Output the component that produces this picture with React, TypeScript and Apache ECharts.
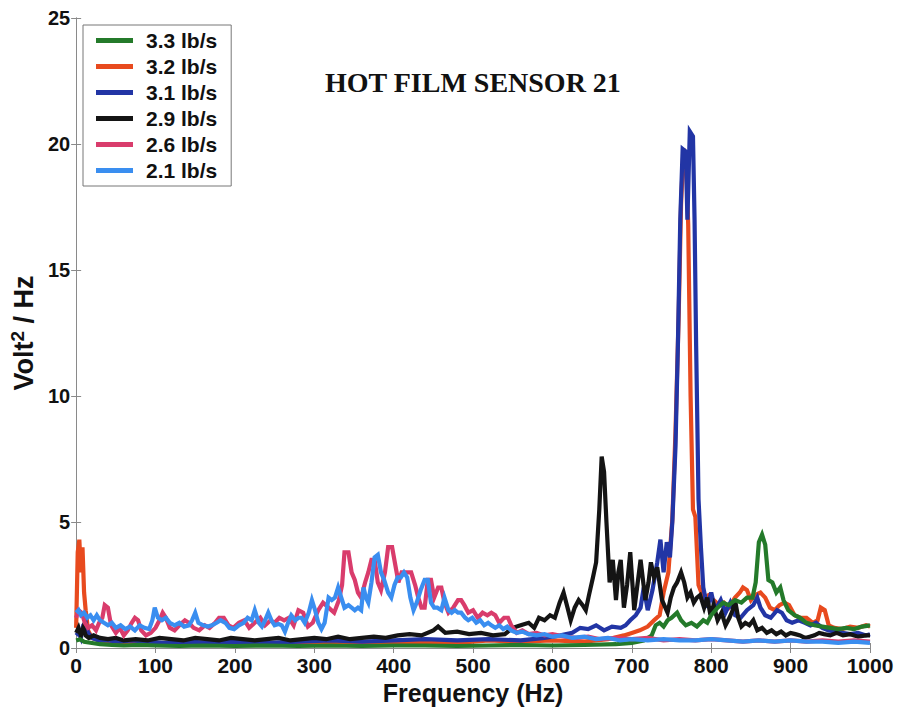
import React, { useEffect, useRef } from "react";
import * as echarts from "echarts";

const seriesNames = ["3.3 lb/s", "3.2 lb/s", "3.1 lb/s", "2.9 lb/s", "2.6 lb/s", "2.1 lb/s"];
const xTicks = [0, 100, 200, 300, 400, 500, 600, 700, 800, 900, 1000];
const yTicks = [0, 5, 10, 15, 20, 25];

const green33 = [[0,0.3],[5,0.35],[10,0.25],[20,0.2],[30,0.15],[45,0.12],[60,0.1],[80,0.12],[100,0.1],[130,0.08],[160,0.1],[200,0.08],[240,0.1],[280,0.08],[320,0.1],[360,0.08],[400,0.1],[440,0.1],[480,0.08],[520,0.1],[560,0.12],[600,0.1],[640,0.12],[680,0.15],[700,0.2],[715,0.3],[725,0.5],[730,0.9],[735,1.0],[740,0.85],[745,1.1],[750,1.2],[757,1.4],[762,1.1],[768,0.9],[775,1.0],[782,0.85],[790,1.1],[795,1.0],[800,1.3],[808,1.6],[815,1.8],[822,1.7],[830,1.9],[838,1.8],[845,2.0],[852,2.0],[856,2.6],[860,4.2],[864,4.5],[868,4.1],[872,2.7],[877,2.6],[882,2.2],[887,2.4],[891,1.9],[897,1.5],[905,1.3],[912,1.2],[920,1.0],[930,0.9],[940,0.85],[950,0.8],[960,0.75],[970,0.8],[980,0.75],[990,0.85],[1000,0.9]];

const red32 = [[0,0.8],[2,3.8],[4,4.3],[6,3.0],[8,4.0],[10,2.2],[12,1.5],[15,0.7],[20,0.4],[30,0.3],[45,0.25],[60,0.2],[80,0.15],[100,0.2],[130,0.15],[160,0.2],[200,0.15],[240,0.2],[280,0.15],[320,0.2],[360,0.15],[400,0.2],[440,0.25],[480,0.2],[520,0.3],[560,0.25],[600,0.3],[640,0.25],[670,0.35],[690,0.5],[700,0.6],[710,0.7],[720,0.85],[728,1.1],[735,1.3],[740,2.2],[746,3.0],[751,5.1],[755,8.6],[759,13.2],[762,17.6],[765,19.8],[768,19.6],[771,16.8],[774,10.0],[777,5.5],[780,5.2],[784,2.5],[790,2.0],[797,2.1],[803,1.9],[810,1.7],[816,1.8],[822,1.6],[830,2.0],[836,2.2],[840,2.4],[845,2.3],[850,1.9],[855,2.1],[862,2.2],[868,2.0],[874,1.6],[880,1.5],[886,1.7],[892,1.8],[898,1.7],[905,1.3],[912,1.2],[920,1.2],[928,1.0],[934,1.1],[938,1.6],[943,1.5],[948,0.9],[955,0.8],[965,0.75],[975,0.85],[985,0.8],[995,0.9],[1000,0.85]];

const blue31 = [[0,0.5],[3,0.6],[6,0.4],[9,0.9],[12,1.0],[15,0.6],[20,0.4],[28,0.3],[40,0.3],[55,0.25],[70,0.3],[90,0.25],[110,0.2],[140,0.25],[170,0.2],[200,0.25],[240,0.2],[280,0.25],[320,0.3],[360,0.25],[400,0.3],[440,0.35],[480,0.3],[520,0.35],[560,0.3],[590,0.4],[610,0.5],[625,0.6],[635,0.8],[645,0.75],[655,0.9],[665,0.7],[675,0.85],[686,0.8],[692,0.9],[698,1.1],[705,1.3],[711,1.6],[715,2.4],[720,1.5],[726,2.3],[732,3.4],[736,4.3],[740,3.0],[744,4.2],[748,3.6],[751,5.0],[755,8.0],[758,12.0],[761,17.0],[764,19.8],[768,19.7],[770,17.0],[773,20.5],[777,20.3],[779,17.0],[781,12.0],[784,5.9],[787,4.0],[790,2.4],[795,1.6],[800,2.2],[805,1.5],[812,1.9],[818,1.4],[824,1.8],[830,1.3],[837,1.2],[845,1.5],[853,1.7],[858,2.0],[862,1.6],[868,1.3],[875,1.2],[883,1.5],[889,1.4],[895,1.1],[902,1.0],[910,1.1],[918,1.0],[925,0.9],[932,1.0],[940,0.8],[948,0.7],[956,0.65],[965,0.6],[975,0.55],[985,0.6],[995,0.5],[1000,0.55]];

const black29 = [[0,0.6],[3,0.8],[6,0.5],[9,0.8],[12,0.5],[16,0.4],[22,0.5],[30,0.4],[40,0.35],[50,0.4],[60,0.3],[75,0.35],[90,0.3],[105,0.4],[120,0.35],[135,0.3],[150,0.4],[165,0.35],[180,0.3],[195,0.4],[210,0.35],[225,0.3],[240,0.35],[255,0.4],[270,0.3],[285,0.35],[300,0.4],[315,0.35],[330,0.45],[345,0.35],[360,0.4],[375,0.45],[390,0.4],[405,0.5],[420,0.55],[435,0.5],[450,0.7],[456,0.85],[465,0.6],[480,0.65],[495,0.55],[510,0.6],[525,0.5],[540,0.55],[550,0.8],[560,0.9],[570,1.0],[577,0.8],[583,1.2],[590,1.1],[597,1.3],[603,1.2],[609,1.8],[614,2.2],[619,1.6],[623,1.1],[628,1.6],[633,1.9],[638,1.7],[642,1.5],[646,2.1],[651,2.8],[655,3.4],[659,5.5],[662,7.6],[665,7.0],[668,5.0],[672,2.6],[676,3.5],[680,1.9],[683,3.0],[686,3.5],[690,1.6],[694,2.5],[698,3.8],[703,1.5],[707,2.5],[711,3.5],[717,1.9],[721,2.6],[724,3.4],[728,2.8],[732,3.2],[738,1.9],[745,1.4],[749,2.0],[753,2.4],[757,2.6],[762,3.0],[766,2.6],[770,2.0],[774,2.2],[778,1.8],[782,2.0],[786,2.1],[791,1.6],[795,2.0],[799,1.3],[803,1.7],[808,1.1],[813,1.4],[818,0.9],[823,1.2],[827,1.5],[830,1.9],[834,1.2],[838,0.85],[843,1.0],[848,0.9],[853,1.1],[858,0.7],[864,0.8],[870,0.6],[876,0.7],[882,0.55],[888,0.65],[894,0.5],[900,0.6],[906,0.55],[912,0.5],[918,0.4],[924,0.45],[930,0.5],[936,0.6],[942,0.55],[950,0.5],[958,0.6],[966,0.5],[975,0.55],[985,0.45],[995,0.5],[1000,0.5]];

const pink26 = [[0,1.2],[3,1.5],[7,1.4],[11,1.0],[15,0.8],[20,0.9],[25,0.7],[29,1.0],[33,1.2],[36,1.7],[40,1.6],[44,0.9],[50,0.6],[55,0.8],[60,0.5],[65,0.7],[70,1.0],[74,1.2],[78,1.1],[82,0.7],[88,0.5],[94,0.6],[100,0.8],[105,1.1],[109,1.4],[113,1.2],[118,0.8],[124,0.7],[130,0.9],[137,1.1],[142,1.0],[148,0.8],[155,0.7],[162,0.9],[168,0.8],[175,1.0],[180,1.2],[186,1.2],[192,0.9],[198,0.8],[205,1.0],[212,1.1],[218,0.8],[225,1.0],[232,1.2],[238,0.9],[245,1.1],[250,1.0],[256,1.2],[262,1.1],[268,1.2],[274,0.9],[280,1.5],[286,1.4],[292,0.85],[298,1.0],[305,1.5],[311,1.8],[318,1.6],[325,1.4],[331,1.9],[335,2.5],[338,3.8],[343,3.8],[347,3.0],[351,2.7],[355,2.2],[359,2.0],[364,2.6],[368,3.0],[372,3.5],[376,3.5],[380,2.6],[384,2.3],[389,3.0],[393,4.0],[398,4.0],[402,3.3],[406,2.6],[410,3.0],[416,3.0],[422,3.0],[427,2.5],[431,2.0],[435,1.6],[439,1.6],[443,2.7],[447,2.7],[451,2.0],[456,2.4],[460,2.4],[464,1.8],[469,1.4],[475,1.6],[481,1.9],[485,1.9],[489,1.7],[494,1.4],[500,1.5],[506,1.2],[512,1.4],[518,1.3],[523,1.4],[528,1.3],[533,1.0],[539,1.2],[544,1.2],[548,0.9],[555,0.6],[562,0.7],[570,0.55],[580,0.6],[590,0.5],[600,0.55],[615,0.45],[630,0.4],[645,0.45],[660,0.35],[680,0.4],[700,0.35],[720,0.4],[740,0.3],[760,0.35],[780,0.3],[800,0.35],[820,0.3],[840,0.25],[860,0.3],[880,0.25],[900,0.3],[920,0.25],[940,0.3],[960,0.25],[980,0.3],[1000,0.25]];

const lightblue21 = [[0,1.4],[3,1.5],[6,1.3],[10,1.4],[14,1.2],[18,1.3],[22,1.1],[26,1.3],[30,1.1],[35,1.0],[40,0.9],[45,1.0],[50,0.8],[56,0.9],[62,0.75],[68,0.85],[74,0.7],[80,0.9],[86,0.8],[92,0.75],[96,1.1],[99,1.6],[103,1.2],[108,1.1],[113,1.2],[118,1.0],[124,0.9],[130,1.0],[136,0.85],[142,0.9],[146,1.1],[150,1.4],[154,1.0],[160,0.9],[166,0.85],[171,0.9],[177,1.0],[182,1.1],[188,1.0],[193,0.8],[199,0.75],[205,0.9],[211,1.0],[216,1.2],[221,1.1],[225,1.5],[230,1.0],[234,0.85],[238,1.1],[242,1.4],[246,1.1],[250,0.9],[255,0.95],[259,0.9],[263,0.65],[267,1.0],[271,1.3],[276,1.1],[280,1.2],[284,1.2],[288,1.0],[293,1.4],[297,1.9],[301,1.5],[305,1.0],[309,0.75],[313,1.0],[318,2.0],[322,1.9],[326,2.0],[330,2.4],[334,2.0],[338,1.6],[343,1.7],[347,1.6],[351,1.5],[355,1.6],[359,1.5],[362,2.4],[365,2.0],[368,1.8],[372,2.6],[376,3.6],[380,3.7],[384,3.0],[388,2.7],[393,2.2],[397,2.0],[401,2.5],[405,2.8],[409,2.8],[413,3.0],[417,2.8],[421,2.0],[425,1.5],[429,1.8],[434,2.3],[439,2.7],[443,2.7],[447,1.8],[451,1.6],[455,1.6],[460,1.5],[464,2.0],[469,1.5],[473,1.4],[477,1.5],[481,1.4],[485,1.4],[490,1.2],[494,1.1],[499,1.2],[504,1.0],[509,1.1],[514,0.9],[519,1.0],[523,0.9],[528,0.8],[533,0.9],[538,0.75],[543,0.85],[548,0.7],[555,0.6],[562,0.65],[570,0.55],[580,0.5],[590,0.55],[600,0.45],[612,0.5],[625,0.4],[640,0.45],[655,0.35],[670,0.4],[685,0.3],[700,0.35],[720,0.3],[740,0.35],[760,0.3],[780,0.3],[800,0.35],[820,0.3],[840,0.25],[860,0.3],[880,0.25],[900,0.3],[920,0.25],[940,0.25],[960,0.2],[980,0.25],[1000,0.2]];

const colors = ["#247a2a", "#e84a1e", "#2235a5", "#141414", "#d93c6c", "#3a8ef0"];

export default function App() {
  const ref = useRef<HTMLDivElement>(null);
  useEffect(() => {
    if (!ref.current) return;
    const chart = echarts.init(ref.current, null, { renderer: "svg" });
    const font = "'Liberation Sans', Arial, sans-serif";
    const mk = (idx: number, data: number[][], z: number) => ({
      name: seriesNames[idx],
      type: "line",
      data,
      symbol: "none",
      z,
      color: colors[idx],
      lineStyle: { width: 4.2, color: colors[idx], join: "miter" },
      xAxisIndex: 0,
      yAxisIndex: 0,
    });
    const axisLine = { show: true, lineStyle: { color: "#8a8a8a", width: 1 } };
    const tick = { show: true, inside: true, length: 5, lineStyle: { color: "#8a8a8a" } };
    chart.setOption({
      animation: false,
      backgroundColor: "#fff",
      title: {
        text: "HOT FILM SENSOR 21",
        left: 320,
        top: 63,
        textStyle: { fontFamily: "'Liberation Serif', 'Times New Roman', serif", fontWeight: "bold", fontSize: 28, color: "#111" },
      },
      legend: {
        data: seriesNames,
        orient: "vertical",
        left: 83,
        top: 25,
        padding: [5, 14, 5, 13],
        itemGap: 5,
        itemWidth: 37,
        itemHeight: 5,
        icon: "rect",
        backgroundColor: "#fff",
        borderColor: "#777",
        borderWidth: 1,
        textStyle: { fontFamily: font, fontWeight: "bold", fontSize: 21, color: "#111", padding: [0, 0, 0, 8] },
      },
      grid: { left: 74, right: 29, top: 18, bottom: 63, containLabel: false },
      xAxis: [
        {
          type: "value", min: 0, max: 1000, interval: 100, position: "bottom",
          name: "Frequency (Hz)", nameLocation: "middle", nameGap: 30,
          nameTextStyle: { fontFamily: font, fontWeight: "bold", fontSize: 25, color: "#111" },
          axisLine, axisTick: tick, splitLine: { show: false },
          axisLabel: { fontFamily: font, fontWeight: "bold", fontSize: 21, color: "#111", margin: 7, formatter: (v: number) => String(v) },
        },
        {
          type: "value", min: 0, max: 1000, interval: 100, position: "top",
          axisLine, axisTick: tick, splitLine: { show: false }, axisLabel: { show: false },
        },
      ],
      yAxis: [
        {
          type: "value", min: 0, max: 25, interval: 5, position: "left",
          name: "Volt{sup|2} / Hz", nameLocation: "middle", nameGap: 28, nameRotate: 90,
          nameTextStyle: {
            fontFamily: font, fontWeight: "bold", fontSize: 27, color: "#111",
            rich: {
              sup: { fontFamily: font, fontWeight: "bold", fontSize: 19, color: "#111", verticalAlign: "top", padding: [0, 0, 12, 0] },
            },
          },
          axisLine, axisTick: tick, splitLine: { show: false },
          axisLabel: { fontFamily: font, fontWeight: "bold", fontSize: 20, color: "#111", margin: 6, formatter: (v: number) => String(v) },
        },
        {
          type: "value", min: 0, max: 25, interval: 5, position: "right",
          axisLine, axisTick: tick, splitLine: { show: false }, axisLabel: { show: false },
        },
      ],
      series: [
        mk(1, red32, 2),
        mk(2, blue31, 3),
        mk(3, black29, 4),
        mk(0, green33, 5),
        mk(4, pink26, 6),
        mk(5, lightblue21, 7),
      ],
    });
    return () => chart.dispose();
  }, []);
  return <div ref={ref} style={{ position: "fixed", left: 0, top: 0, width: 899, height: 711 }} />;
}
